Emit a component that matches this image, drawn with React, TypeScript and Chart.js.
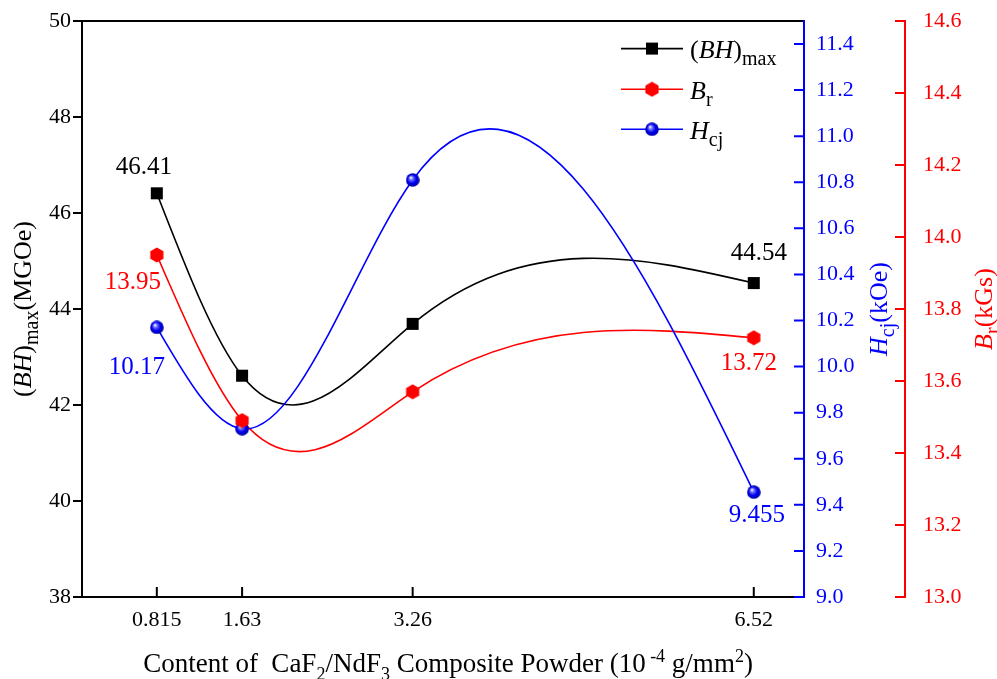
import React, { useEffect, useRef } from "react";
import { Chart, registerables } from "chart.js";
Chart.register(...registerables);

// ---------------- data ----------------
const contentX = [0.815, 1.63, 3.26, 6.52];
const bhMax = [46.41, 42.61, 43.69, 44.54];
const br = [13.95, 13.49, 13.57, 13.72];
const hcj = [10.17, 9.73, 10.81, 9.455];

const xTicks = [0.815, 1.63, 3.26, 6.52];
const bhTicks = [38, 40, 42, 44, 46, 48, 50];
const hcjTicks = [9.0, 9.2, 9.4, 9.6, 9.8, 10.0, 10.2, 10.4, 10.6, 10.8, 11.0, 11.2, 11.4];
const brTicks = [13.0, 13.2, 13.4, 13.6, 13.8, 14.0, 14.2, 14.4, 14.6];

const labeledIdx = [0, 3];

// ---------------- style ----------------
const FONT = "'Liberation Serif', 'Times New Roman', serif";
const BLACK = "#000000";
const RED = "#ff0000";
const BLUE = "#0000ff";

type Part = { t: string; i?: boolean; sub?: boolean; sup?: boolean };

function partFont(p: Part, size: number, ratio: number) {
  const s = p.sub || p.sup ? Math.round(size * ratio) : size;
  return `${p.i ? "italic " : ""}${s}px ${FONT}`;
}
function measureParts(ctx: CanvasRenderingContext2D, parts: Part[], size: number, ratio = 0.7) {
  let w = 0;
  for (const p of parts) {
    ctx.font = partFont(p, size, ratio);
    w += ctx.measureText(p.t).width;
  }
  return w;
}
function drawParts(ctx: CanvasRenderingContext2D, parts: Part[], x: number, y: number, size: number, ratio = 0.7) {
  let cx = x;
  ctx.textAlign = "left";
  ctx.textBaseline = "alphabetic";
  for (const p of parts) {
    ctx.font = partFont(p, size, ratio);
    const dy = p.sub ? size * 0.28 : p.sup ? -size * 0.36 : 0;
    ctx.fillText(p.t, cx, y + dy);
    cx += ctx.measureText(p.t).width;
  }
}

function naturalSpline(xs: number[], ys: number[]) {
  const n = xs.length;
  const h: number[] = [];
  for (let i = 0; i < n - 1; i++) h.push(xs[i + 1] - xs[i]);
  const M = new Array(n).fill(0);
  if (n > 2) {
    const m = n - 2;
    const a: number[] = [], b: number[] = [], c: number[] = [], d: number[] = [];
    for (let k = 0; k < m; k++) {
      const i = k + 1;
      a.push(h[i - 1]);
      b.push(2 * (h[i - 1] + h[i]));
      c.push(h[i]);
      d.push(6 * ((ys[i + 1] - ys[i]) / h[i] - (ys[i] - ys[i - 1]) / h[i - 1]));
    }
    for (let k = 1; k < m; k++) {
      const w = a[k] / b[k - 1];
      b[k] -= w * c[k - 1];
      d[k] -= w * d[k - 1];
    }
    const sol = new Array(m).fill(0);
    sol[m - 1] = d[m - 1] / b[m - 1];
    for (let k = m - 2; k >= 0; k--) sol[k] = (d[k] - c[k] * sol[k + 1]) / b[k];
    for (let k = 0; k < m; k++) M[k + 1] = sol[k];
  }
  return { h, M };
}

function makeHex() {
  const c = document.createElement("canvas");
  c.width = 16; c.height = 16;
  const g = c.getContext("2d")!;
  g.fillStyle = RED;
  g.beginPath();
  const r = 7.6;
  for (let k = 0; k < 6; k++) {
    const ang = -Math.PI / 2 + (k * Math.PI) / 3;
    const px = 8 + r * Math.cos(ang);
    const py = 8 + r * Math.sin(ang);
    if (k === 0) g.moveTo(px, py); else g.lineTo(px, py);
  }
  g.closePath();
  g.fill();
  return c;
}
function makeSphere() {
  const c = document.createElement("canvas");
  c.width = 14; c.height = 14;
  const g = c.getContext("2d")!;
  const grad = g.createRadialGradient(5, 4.5, 0.3, 7, 7, 7);
  grad.addColorStop(0, "#ffffff");
  grad.addColorStop(0.25, "#6f6fff");
  grad.addColorStop(0.6, "#0000f0");
  grad.addColorStop(1, "#0000a0");
  g.fillStyle = grad;
  g.beginPath();
  g.arc(7, 7, 6.8, 0, Math.PI * 2);
  g.fill();
  return c;
}

const labelOffsets = [
  [[-13, -26], [5, -30]],
  [[-24, 27], [-5, 26]],
  [[-20, 40], [3, 23]],
];

export default function App() {
  const ref = useRef<HTMLCanvasElement | null>(null);
  useEffect(() => {
    document.body.style.margin = "0";
    const canvas = ref.current!;
    const hex = makeHex();
    const sphere = makeSphere();
    const seriesY = [bhMax, br, hcj];
    const colors = [BLACK, RED, BLUE];
    const axisIds = ["y", "yR", "yB"];

    const plugin = {
      id: "custom",
      beforeDatasetsDraw(chart: any) {
        const ctx: CanvasRenderingContext2D = chart.ctx;
        const xs = chart.scales.x;
        const ca = chart.chartArea;
        ctx.save();
        ctx.beginPath();
        ctx.rect(ca.left, ca.top, ca.right - ca.left, ca.bottom - ca.top);
        ctx.clip();
        seriesY.forEach((ys, si) => {
          const yS = chart.scales[axisIds[si]];
          const { h, M } = naturalSpline(contentX, ys);
          ctx.strokeStyle = colors[si];
          ctx.lineWidth = 1.6;
          ctx.beginPath();
          ctx.moveTo(xs.getPixelForValue(contentX[0]), yS.getPixelForValue(ys[0]));
          for (let i = 0; i < contentX.length - 1; i++) {
            const hi = h[i];
            const di = (ys[i + 1] - ys[i]) / hi;
            const s0 = di - (hi * (2 * M[i] + M[i + 1])) / 6;
            const s1 = di + (hi * (M[i] + 2 * M[i + 1])) / 6;
            const c1x = contentX[i] + hi / 3, c1y = ys[i] + (s0 * hi) / 3;
            const c2x = contentX[i + 1] - hi / 3, c2y = ys[i + 1] - (s1 * hi) / 3;
            ctx.bezierCurveTo(
              xs.getPixelForValue(c1x), yS.getPixelForValue(c1y),
              xs.getPixelForValue(c2x), yS.getPixelForValue(c2y),
              xs.getPixelForValue(contentX[i + 1]), yS.getPixelForValue(ys[i + 1])
            );
          }
          ctx.stroke();
        });
        ctx.restore();
      },
      afterDraw(chart: any) {
        const ctx: CanvasRenderingContext2D = chart.ctx;
        const ca = chart.chartArea;
        const xs = chart.scales.x;
        const yL = chart.scales.y;
        const yB = chart.scales.yB;
        const yR = chart.scales.yR;
        ctx.save();
        ctx.lineWidth = 2;
        // frame
        ctx.strokeStyle = BLACK;
        ctx.beginPath();
        ctx.moveTo(ca.left, ca.top); ctx.lineTo(ca.right, ca.top);
        ctx.moveTo(ca.left, ca.bottom); ctx.lineTo(ca.right, ca.bottom);
        ctx.moveTo(ca.left, ca.top - 1); ctx.lineTo(ca.left, ca.bottom + 1);
        ctx.stroke();
        // left ticks (outward)
        ctx.beginPath();
        bhTicks.forEach((v) => {
          const p = yL.getPixelForValue(v);
          ctx.moveTo(ca.left - 9, p); ctx.lineTo(ca.left, p);
        });
        // x ticks (inward)
        xTicks.forEach((v) => {
          const p = xs.getPixelForValue(v);
          ctx.moveTo(p, ca.bottom); ctx.lineTo(p, ca.bottom - 10);
        });
        ctx.stroke();
        // blue axis
        ctx.strokeStyle = BLUE;
        ctx.beginPath();
        ctx.moveTo(ca.right, ca.top - 1); ctx.lineTo(ca.right, ca.bottom + 1);
        hcjTicks.forEach((v) => {
          const p = yB.getPixelForValue(v);
          ctx.moveTo(ca.right - 10, p); ctx.lineTo(ca.right, p);
        });
        ctx.stroke();
        // red axis
        const rx = yR.left;
        ctx.strokeStyle = RED;
        ctx.beginPath();
        ctx.moveTo(rx, ca.top - 1); ctx.lineTo(rx, ca.bottom + 1);
        brTicks.forEach((v) => {
          const p = yR.getPixelForValue(v);
          ctx.moveTo(rx - 10, p); ctx.lineTo(rx, p);
        });
        ctx.stroke();

        // axis titles
        const cy = (ca.top + ca.bottom) / 2;
        const drawRot = (parts: Part[], x: number, color: string, size: number) => {
          ctx.save();
          ctx.fillStyle = color;
          ctx.translate(x, cy);
          ctx.rotate(-Math.PI / 2);
          const w = measureParts(ctx, parts, size, 0.75);
          drawParts(ctx, parts, -w / 2, 0, size, 0.75);
          ctx.restore();
        };
        drawRot([{ t: "(" }, { t: "BH", i: true }, { t: ")" }, { t: "max", sub: true }, { t: "(MGOe)" }], 31, BLACK, 26);
        drawRot([{ t: "H", i: true }, { t: "cj", sub: true }, { t: "(kOe)" }], yB.left + 83, BLUE, 26);
        drawRot([{ t: "B", i: true }, { t: "r", sub: true }, { t: "(kGs)" }], yR.left + 87, RED, 26);

        const xParts: Part[] = [
          { t: "Content of  CaF" }, { t: "2", sub: true }, { t: "/NdF" }, { t: "3", sub: true },
          { t: " Composite Powder (10" }, { t: " -4", sup: true }, { t: " g/mm" }, { t: "2", sup: true }, { t: ")" },
        ];
        ctx.fillStyle = BLACK;
        const xw = measureParts(ctx, xParts, 27, 0.68);
        drawParts(ctx, xParts, (ca.left + ca.right) / 2 + 5 - xw / 2, ca.bottom + 75, 27, 0.68);

        // legend
        const legParts: Part[][] = [
          [{ t: "(" }, { t: "BH", i: true }, { t: ")" }, { t: "max", sub: true }],
          [{ t: "B", i: true }, { t: "r", sub: true }],
          [{ t: "H", i: true }, { t: "cj", sub: true }],
        ];
        const lx0 = ca.right - 183, lx1 = ca.right - 121, mx = ca.right - 152, tx = ca.right - 114;
        [27.6, 68.3, 108.3].forEach((dy, i) => {
          const y = ca.top + dy;
          ctx.strokeStyle = colors[i];
          ctx.lineWidth = 1.6;
          ctx.beginPath();
          ctx.moveTo(lx0, y); ctx.lineTo(lx1, y);
          ctx.stroke();
          if (i === 0) {
            ctx.fillStyle = BLACK;
            ctx.fillRect(mx - 6, y - 6, 12, 12);
          } else {
            const img = i === 1 ? hex : sphere;
            ctx.drawImage(img, mx - img.width / 2, y - img.height / 2);
          }
          ctx.fillStyle = BLACK;
          drawParts(ctx, legParts[i], tx, y + 9.5, 26, 0.78);
        });

        // data labels
        ctx.font = `25px ${FONT}`;
        ctx.textAlign = "center";
        ctx.textBaseline = "middle";
        seriesY.forEach((ys, si) => {
          const yS = chart.scales[axisIds[si]];
          labeledIdx.forEach((idx, k) => {
            const [ox, oy] = labelOffsets[si][k];
            ctx.fillStyle = colors[si];
            ctx.fillText(String(ys[idx]), xs.getPixelForValue(contentX[idx]) + ox, yS.getPixelForValue(ys[idx]) + oy);
          });
        });
        ctx.restore();
      },
    };

    const tickFont = { family: FONT, size: 22 };
    const fixV = (w: number) => (s: any) => { s.width = w; s.paddingTop = 0; s.paddingBottom = 0; };
    const chart = new Chart(canvas, {
      type: "scatter",
      data: {
        datasets: [
          {
            label: "(BH)max",
            data: contentX.map((x, i) => ({ x, y: bhMax[i] })),
            yAxisID: "y",
            pointStyle: "rect",
            pointRadius: 8.5,
            backgroundColor: BLACK,
            borderColor: BLACK,
            borderWidth: 0,
            showLine: false,
          },
          {
            label: "Br",
            data: contentX.map((x, i) => ({ x, y: br[i] })),
            yAxisID: "yR",
            pointStyle: hex,
            pointRadius: 7,
            backgroundColor: RED,
            borderColor: RED,
            showLine: false,
          },
          {
            label: "Hcj",
            data: contentX.map((x, i) => ({ x, y: hcj[i] })),
            yAxisID: "yB",
            pointStyle: sphere,
            pointRadius: 7,
            backgroundColor: BLUE,
            borderColor: BLUE,
            showLine: false,
          },
        ],
      },
      options: {
        responsive: false,
        animation: false,
        layout: { padding: { top: 21, left: 0, right: 0, bottom: 0 } },
        plugins: { legend: { display: false }, tooltip: { enabled: false } },
        scales: {
          x: {
            type: "linear",
            position: "bottom",
            min: 0.1,
            max: 7,
            grid: { display: false, drawTicks: false },
            border: { display: false },
            afterBuildTicks: (s: any) => { s.ticks = xTicks.map((v) => ({ value: v })); },
            ticks: { callback: (v: any) => String(v), font: tickFont, color: BLACK, padding: 10, maxRotation: 0, autoSkip: false },
            afterFit: (s: any) => { s.height = 82; s.paddingLeft = 0; s.paddingRight = 0; },
          },
          y: {
            type: "linear",
            position: "left",
            min: 38,
            max: 50,
            grid: { display: false, drawTicks: false },
            border: { display: false },
            afterBuildTicks: (s: any) => { s.ticks = bhTicks.map((v) => ({ value: v })); },
            ticks: { callback: (v: any) => Number(v).toFixed(0), font: tickFont, color: BLACK, padding: 11 },
            afterFit: fixV(82),
          },
          yB: {
            type: "linear",
            position: "right",
            weight: 1,
            min: 9,
            max: 11.5,
            grid: { display: false, drawTicks: false },
            border: { display: false },
            afterBuildTicks: (s: any) => { s.ticks = hcjTicks.map((v) => ({ value: v })); },
            ticks: { callback: (v: any) => Number(v).toFixed(1), font: tickFont, color: BLUE, padding: 12 },
            afterFit: fixV(101),
          },
          yR: {
            type: "linear",
            position: "right",
            weight: 2,
            min: 13,
            max: 14.6,
            grid: { display: false, drawTicks: false },
            border: { display: false },
            afterBuildTicks: (s: any) => { s.ticks = brTicks.map((v) => ({ value: v })); },
            ticks: { callback: (v: any) => Number(v).toFixed(1), font: tickFont, color: RED, padding: 18 },
            afterFit: fixV(92),
          },
        },
      } as any,
      plugins: [plugin],
    });
    return () => chart.destroy();
  }, []);
  return (
    <div style={{ width: 997, height: 679, background: "#fff" }}>
      <canvas ref={ref} width={997} height={679} style={{ display: "block" }} />
    </div>
  );
}
